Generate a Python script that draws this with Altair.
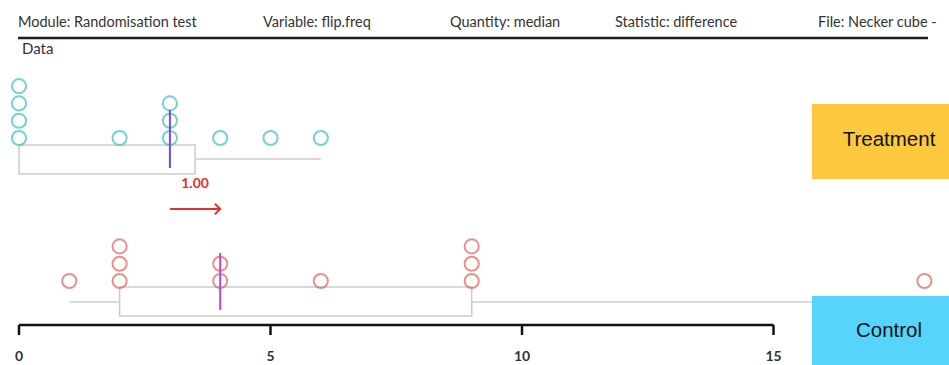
import altair as alt
import numpy as np
import pandas as pd

# Observed flip frequencies in each group
treatment = [0, 0, 0, 0, 2, 3, 3, 3, 4, 5, 6]
control = [1, 2, 2, 2, 4, 4, 6, 9, 9, 9, 18]
group_names = ["Treatment", "Control"]
axis_ticks = [0, 5, 10, 15]
header_items = [
    "Module: Randomisation test",
    "Variable: flip.freq",
    "Quantity: median",
    "Statistic: difference",
    "File: Necker cube - ",
]

# ---- layout / style ----
W, H = 949, 365
X0_PX, UNIT_PX = 19, 50.3
DOT_STEP = 17.3
HEADER_X = [18, 263, 450, 615, 818]
PANELS = {
    "Treatment": dict(base=138, top=145, bottom=174, mid=159,
                      dot="#3BBFC2", med="#7A45E2", tag="#FCC83D",
                      tag_y=(104, 179), tag_text_y=140),
    "Control": dict(base=281, top=287, bottom=316, mid=302,
                    dot="#E2635A", med="#AC45EE", tag="#56D4FC",
                    tag_y=(296, 370), tag_text_y=331),
}
AXIS_Y = 325
HEAD_FONT = "Lato"

xs = alt.Scale(domain=[-X0_PX / UNIT_PX, (W - X0_PX) / UNIT_PX], range=[0, W])
ys = alt.Scale(domain=[0, H], range=[0, H])

# dot stacks
rows = []
for name, vals in zip(group_names, [treatment, control]):
    p = PANELS[name]
    seen = {}
    for v in vals:
        k = seen.get(v, 0)
        seen[v] = k + 1
        rows.append(dict(group=name, value=v, ypos=p["base"] - k * DOT_STEP))
dots = pd.DataFrame(rows)

# box summaries
summ = []
for name, vals in zip(group_names, [treatment, control]):
    p = PANELS[name]
    a = np.array(vals)
    q1, med, q3 = np.percentile(a, [25, 50, 75])
    summ.append(dict(group=name, lo=a.min(), q1=q1, med=med, q3=q3, hi=a.max(),
                     top=p["top"], bottom=p["bottom"], mid=p["mid"],
                     mtop=p["base"] - 28, mbot=p["bottom"] - 6))
box = pd.DataFrame(summ)

dot_colors = alt.Scale(domain=group_names, range=[PANELS[g]["dot"] for g in group_names])

X = lambda f: alt.X(f, type="quantitative", scale=xs, axis=None)
Y = lambda f: alt.Y(f, type="quantitative", scale=ys, axis=None)

boxes = alt.Chart(box).mark_rect(fill="white", fillOpacity=0, stroke="#CBCBCB", strokeWidth=1.5).encode(
    x=X("q1"), x2="q3", y=Y("top"), y2="bottom")
wl = alt.Chart(box).mark_rule(color="#CBCBCB", strokeWidth=1.5).encode(x=X("lo"), x2="q1", y=Y("mid"))
wr = alt.Chart(box).mark_rule(color="#CBCBCB", strokeWidth=1.5).encode(x=X("q3"), x2="hi", y=Y("mid"))

pts = alt.Chart(dots).mark_point(shape="circle", filled=False, size=200, strokeWidth=2).encode(
    x=X("value"), y=Y("ypos"),
    color=alt.Color("group:N", scale=dot_colors, legend=None))

# median markers, one layer per group
med_layers = [
    alt.Chart(box[box.group == g]).mark_rule(strokeWidth=2, color=PANELS[g]["med"]).encode(
        x=X("med"), y=Y("mtop"), y2="mbot")
    for g in group_names
]

# difference arrow between medians
m_t = float(box.loc[box.group == "Treatment", "med"].iloc[0])
m_c = float(box.loc[box.group == "Control", "med"].iloc[0])
diff = pd.DataFrame([dict(a=m_t, b=m_c, mid=(m_t + m_c) / 2, label=f"{m_c - m_t:.2f}",
                          ay=209, ty=184)])
arrow_line = alt.Chart(diff).mark_rule(color="#E3322B", strokeWidth=2).encode(x=X("a"), x2="b", y=Y("ay"))
arrow_head = alt.Chart(diff).mark_point(shape="M -1 -1 L 0 0 L -1 1", filled=False, size=110,
                                        color="#E3322B", strokeWidth=2, opacity=1).encode(x=X("b"), y=Y("ay"))
diff_text = alt.Chart(diff).mark_text(color="#E3322B", fontSize=14, fontWeight="bold",
                                      font=HEAD_FONT, baseline="middle").encode(
    x=X("mid"), y=Y("ty"), text="label:N")

# number line
ticks = pd.DataFrame(dict(t=axis_ticks, y0=AXIS_Y, y1=AXIS_Y + 10, ly=357))
ticks["lab"] = ticks["t"].astype(str)
axis_df = pd.DataFrame([dict(a=min(axis_ticks), b=max(axis_ticks), y=AXIS_Y)])
axis_line = alt.Chart(axis_df).mark_rule(color="#111111", strokeWidth=2.5).encode(x=X("a"), x2="b", y=Y("y"))
tick_marks = alt.Chart(ticks).mark_rule(color="#111111", strokeWidth=2.5).encode(x=X("t"), y=Y("y0"), y2="y1")
tick_labels = alt.Chart(ticks).mark_text(fontSize=14, fontWeight="bold", color="#333333",
                                         font=HEAD_FONT, baseline="middle").encode(
    x=X("t"), y=Y("ly"), text="lab:N")

# header strip
one = pd.DataFrame([{"k": 0}])
layers = [boxes, wl, wr, pts, *med_layers, arrow_line, arrow_head, diff_text,
          axis_line, tick_marks, tick_labels]
for txt, hx in zip(header_items, HEADER_X):
    layers.append(alt.Chart(one).mark_text(text=txt, align="left", baseline="middle", fontSize=14.5,
                                           font=HEAD_FONT, color="#333333").encode(
        x=alt.value(hx), y=alt.value(23)))
layers.append(alt.Chart(one).mark_rule(color="#1E1E1E", strokeWidth=2.5).encode(
    x=alt.value(18), x2=alt.value(928), y=alt.value(38)))
layers.append(alt.Chart(one).mark_text(text="Data", align="left", baseline="middle", fontSize=15,
                                       font=HEAD_FONT, color="#333333").encode(
    x=alt.value(22), y=alt.value(49)))

# group tags
for g in group_names:
    p = PANELS[g]
    layers.append(alt.Chart(one).mark_rect(color=p["tag"]).encode(
        x=alt.value(812), x2=alt.value(W + 10), y=alt.value(p["tag_y"][0]), y2=alt.value(p["tag_y"][1])))
    layers.append(alt.Chart(one).mark_text(text=g, align="center", baseline="middle", fontSize=20.5,
                                           font="Liberation Sans", color="#111111").encode(
        x=alt.value(889), y=alt.value(p["tag_text_y"])))

chart = alt.layer(*layers).properties(
    width=W, height=H, padding=0, autosize=alt.AutoSizeParams(type="none"),
    background="white",
).configure_view(stroke=None)

chart.save("out.html", embed_options={"renderer": "svg", "actions": False})
